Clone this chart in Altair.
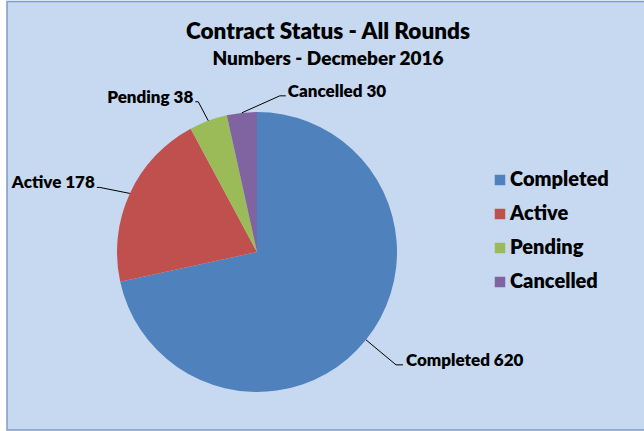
import altair as alt
import pandas as pd

# ---- data ----
categories = ["Completed", "Active", "Pending", "Cancelled"]
counts = [620, 178, 38, 30]
colors = ["#4F81BD", "#C0504D", "#9BBB59", "#8064A2"]

title_text = "Contract Status - All Rounds"
subtitle_text = "Numbers - Decmeber 2016"

# ---- styling (leader line geometry relative to the slice edge point) ----
elbow_dx = [30, -30, -10, 38]
elbow_dy = [25, -6, -19, -17]
tail_dx = [7, -3, -3, 6]
text_gap = [3, -2, -2, 2]
text_align = ["left", "right", "right", "left"]

CX, CY, R = 257, 252, 140
FONT = "Lato"
WEIGHT = 800

df = pd.DataFrame({
    "cat": categories,
    "count": counts,
    "order": list(range(len(categories))),
    "edx": elbow_dx,
    "edy": elbow_dy,
    "tdx": tail_dx,
    "gap": text_gap,
    "align": text_align,
})
df["label"] = df["cat"] + " " + df["count"].astype(str)

base = alt.Chart(df)

frame = alt.Chart(pd.DataFrame({"k": [0]})).mark_rect(
    fill="#C6D9F1", stroke="#7F9CC4", strokeWidth=1.5
).encode(x=alt.value(7), x2=alt.value(660), y=alt.value(1.5), y2=alt.value(430))

color = alt.Color(
    "cat:N",
    scale=alt.Scale(domain=categories, range=colors),
    sort=categories,
    legend=alt.Legend(
        title=None, orient="none", legendX=490, legendY=170,
        symbolType="square", symbolSize=110, symbolStrokeWidth=0,
        labelFont=FONT, labelFontWeight=WEIGHT, labelFontSize=20,
        labelColor="#000000", rowPadding=14, labelOffset=0,
    ),
)

pie = base.mark_arc(outerRadius=R, stroke=None).encode(
    theta=alt.Theta("count:Q", stack=True),
    color=color,
    order=alt.Order("order:Q"),
    x=alt.value(CX),
    y=alt.value(CY),
)

geo = base.transform_joinaggregate(total="sum(count)").transform_window(
    cum="sum(count)", sort=[alt.SortField("order")], frame=[None, 0]
).transform_calculate(
    mid="(datum.cum - datum.count/2) / datum.total * 2 * PI",
).transform_calculate(
    x0=f"{CX} + {R} * sin(datum.mid)",
    y0=f"{CY} - {R} * cos(datum.mid)",
).transform_calculate(
    x1="datum.x0 + datum.edx",
    y1="datum.y0 + datum.edy",
).transform_calculate(
    x2="datum.x1 + datum.tdx",
    xt="datum.x1 + datum.tdx + datum.gap",
    yt="datum.y1 + 1",
)

lead1 = geo.mark_rule(color="#000000", strokeWidth=1).encode(
    x=alt.X("x0:Q", scale=None), y=alt.Y("y0:Q", scale=None),
    x2="x1:Q", y2="y1:Q",
)
lead2 = geo.mark_rule(color="#000000", strokeWidth=1).encode(
    x=alt.X("x1:Q", scale=None), y=alt.Y("y1:Q", scale=None),
    x2="x2:Q", y2="y1:Q",
)

def lbl(align):
    return geo.transform_filter(alt.datum.align == align).mark_text(
        font=FONT, fontWeight=WEIGHT, fontSize=17, align=align,
        baseline="alphabetic", color="#000000",
    ).encode(
        x=alt.X("xt:Q", scale=None), y=alt.Y("yt:Q", scale=None), text="label:N"
    )

tdf = pd.DataFrame({"t": [title_text, subtitle_text], "i": [0, 1]})
title = alt.Chart(tdf).transform_filter(alt.datum.i == 0).mark_text(
    font=FONT, fontWeight=WEIGHT, fontSize=22.5, color="#000000", baseline="middle"
).encode(x=alt.value(328), y=alt.value(32), text="t:N")
subtitle = alt.Chart(tdf).transform_filter(alt.datum.i == 1).mark_text(
    font=FONT, fontWeight=WEIGHT, fontSize=19, color="#000000", baseline="middle"
).encode(x=alt.value(328), y=alt.value(59), text="t:N")

chart = alt.layer(
    frame, pie, lead1, lead2, lbl("left"), lbl("right"), title, subtitle
).properties(
    width=644, height=431, autosize=alt.AutoSizeParams(type="none"), padding=0,
    background="#FFFFFF",
).configure_view(stroke=None)

chart.save("out.html", embed_options={"renderer": "svg", "actions": False})
